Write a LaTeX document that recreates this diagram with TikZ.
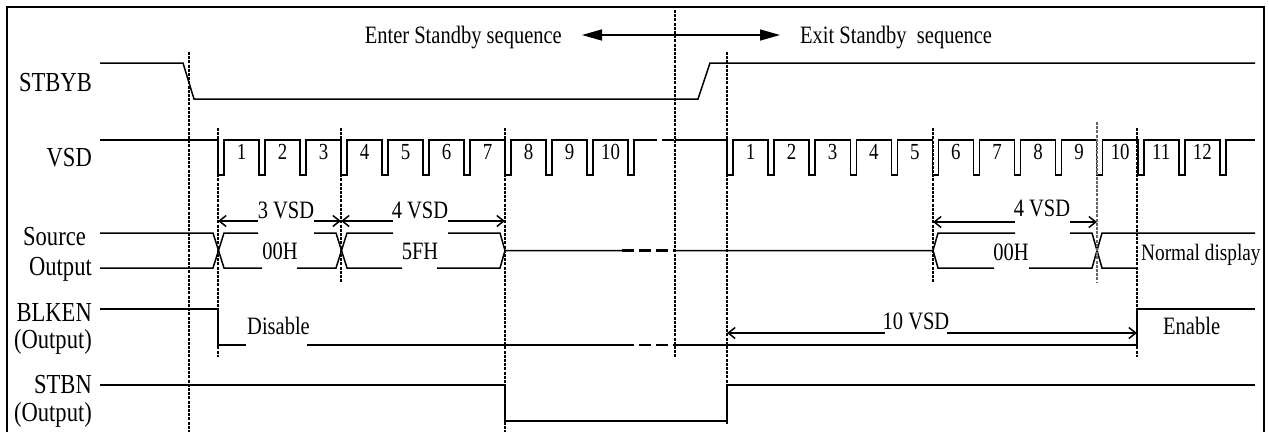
\documentclass[tikz,border=0pt]{standalone}
\usepackage{fontspec}
\setmainfont{Liberation Serif}[FakeStretch=0.82]
\usetikzlibrary{arrows.meta}

\begin{document}
\begin{tikzpicture}
[x=1pt,y=-1pt,
 sig/.style={line width=1.5pt},
 marker/.style={dash pattern=on 3pt off 1.2pt,line width=2.6pt},
 gapdash/.style={line width=2.6pt,dash pattern=on 12pt off 5pt},
 dimL/.style={sig,{Straight Barb[length=7pt,width=11pt]}-},
 dimR/.style={sig,-{Straight Barb[length=7pt,width=11pt]}},
 seqarrow/.style={sig,{Triangle[length=20pt,width=11pt]}-{Triangle[length=20pt,width=11pt]}},
 lbl/.style={anchor=base east,inner sep=0pt,font=\fontsize{27.5}{30}\selectfont},
 txt/.style={anchor=base,inner sep=0pt,font=\fontsize{25}{27}\selectfont},
 num/.style={anchor=base,inner sep=0pt,font=\fontsize{23}{25}\selectfont}]
\useasboundingbox (0,0) rectangle (1269,432);
\draw[line width=2.4pt] (7,432) -- (7,7) -- (1264,7) -- (1264,432);

% signal names
\node[lbl] (stbyb)   at (92,91)  {STBYB};
\node[lbl] (vsd)     at (92,166) {VSD};
\node[lbl] (src)     at (86,245) {Source};
\node[lbl] (srcout)  at (92,275) {Output};
\node[lbl] (blken)   at (92,321) {BLKEN};
\node[lbl] (blkout)  at (92,348) {(Output)};
\node[lbl] (stbn)    at (92,393) {STBN};
\node[lbl] (stbnout) at (92,421) {(Output)};

% sequence header
\node[txt,anchor=base east] (enter) at (562,43) {Enter Standby sequence};
\node[txt,anchor=base west] (exit)  at (800,43) {Exit Standby\ \ sequence};
\draw[seqarrow] (582,35) -- (780,35);

% STBYB
\draw[sig] (100,63) -- (183,63) -- (194,99) -- (698,99) -- (710,63) -- (1255,63);

% VSD
\draw[sig] (100,140) \foreach \i in {0,...,10}{ -- ({218+41*\i},140) -- ++(0,35) -- ++(6,0) -- ++(0,-35) } -- (645,140);
\draw[gapdash] (645,140) -- (675,140);
\draw[sig] (675,140) \foreach \i in {0,...,12}{ -- ({727+41.08*\i},140) -- ++(0,35) -- ++(6,0) -- ++(0,-35) } -- (1255,140);
\foreach \i in {1,...,10} \node[num] (n1-\i) at ({218+41*(\i-1)+23.5},159) {\i};
\foreach \i in {1,...,12} \node[num] (n2-\i) at ({727+41.08*(\i-1)+23.5},159) {\i};

% Source output
\draw[sig] (100,233) -- (213,233) -- (224,268) -- (262,268);
\draw[sig] (100,268) -- (213,268) -- (224,233) -- (258,233);
\draw[sig] (314,233) -- (336,233) -- (347,268) -- (402,268);
\draw[sig] (297,268) -- (336,268) -- (347,233) -- (393,233);
\draw[sig] (448,233) -- (500,233) -- (505,250.5) -- (622,250.5);
\draw[sig] (437,268) -- (500,268) -- (505,250.5);
\draw[gapdash] (622,250.5) -- (675,250.5);
\draw[sig] (675,250.5) -- (933,250.5) -- (938,233) -- (1015,233);
\draw[sig] (933,250.5) -- (938,268) -- (994,268);
\draw[sig] (1070,233) -- (1092,233) -- (1102,268) -- (1138,268);
\draw[sig] (1029,268) -- (1092,268) -- (1102,233) -- (1255,233);
\node[txt] (d00a) at (280,259) {00H};
\node[txt] (d5f)  at (420,259) {5FH};
\node[txt] (d00b) at (1011,260) {00H};
\node[txt,anchor=base west,font=\fontsize{23.5}{26}\selectfont] (normal) at (1141,260) {Normal display};

% VSD counts
\node[txt] (cnt3)  at (286,218) {3 VSD};
\node[txt] (cnt4a) at (420,218) {4 VSD};
\node[txt] (cnt4b) at (1042,216) {4 VSD};
\node[txt] (cnt10) at (916,329) {10 VSD};
\draw[dimL] (218,221) -- (258,221);
\draw[dimR] (314,221) -- (341,221);
\draw[dimL] (341,221) -- (393,221);
\draw[dimR] (448,221) -- (505,221);
\draw[dimL] (933,222) -- (1015,222);
\draw[dimR] (1070,222) -- (1097,222);
\draw[dimL] (727,333) -- (885,333);
\draw[dimR] (947,333) -- (1137,333);

% BLKEN
\draw[sig] (100,309) -- (218,309) -- (218,345) -- (246,345);
\draw[sig] (307,345) -- (622,345);
\draw[gapdash] (622,345) -- (675,345);
\draw[sig] (675,345) -- (1137,345) -- (1137,309) -- (1255,309);
\node[txt,anchor=base west] (disable) at (247,334) {Disable};
\node[txt,anchor=base west] (enable)  at (1163,334) {Enable};

% STBN
\draw[sig] (100,385) -- (505,385) -- (505,421) -- (727,421) -- (727,385) -- (1255,385);

% timing markers
\foreach \x/\ya/\yb in {189/52/432, 218/128/357, 341/128/282, 505/128/432, 675/10/357,
                        727/52/424, 933/128/282, 1137/128/357}
  \draw[marker] (\x,\ya) -- (\x,\yb);
\draw[marker,line width=1.2pt,black!60] (1097,122) -- (1097,282);
\end{tikzpicture}
\end{document}
